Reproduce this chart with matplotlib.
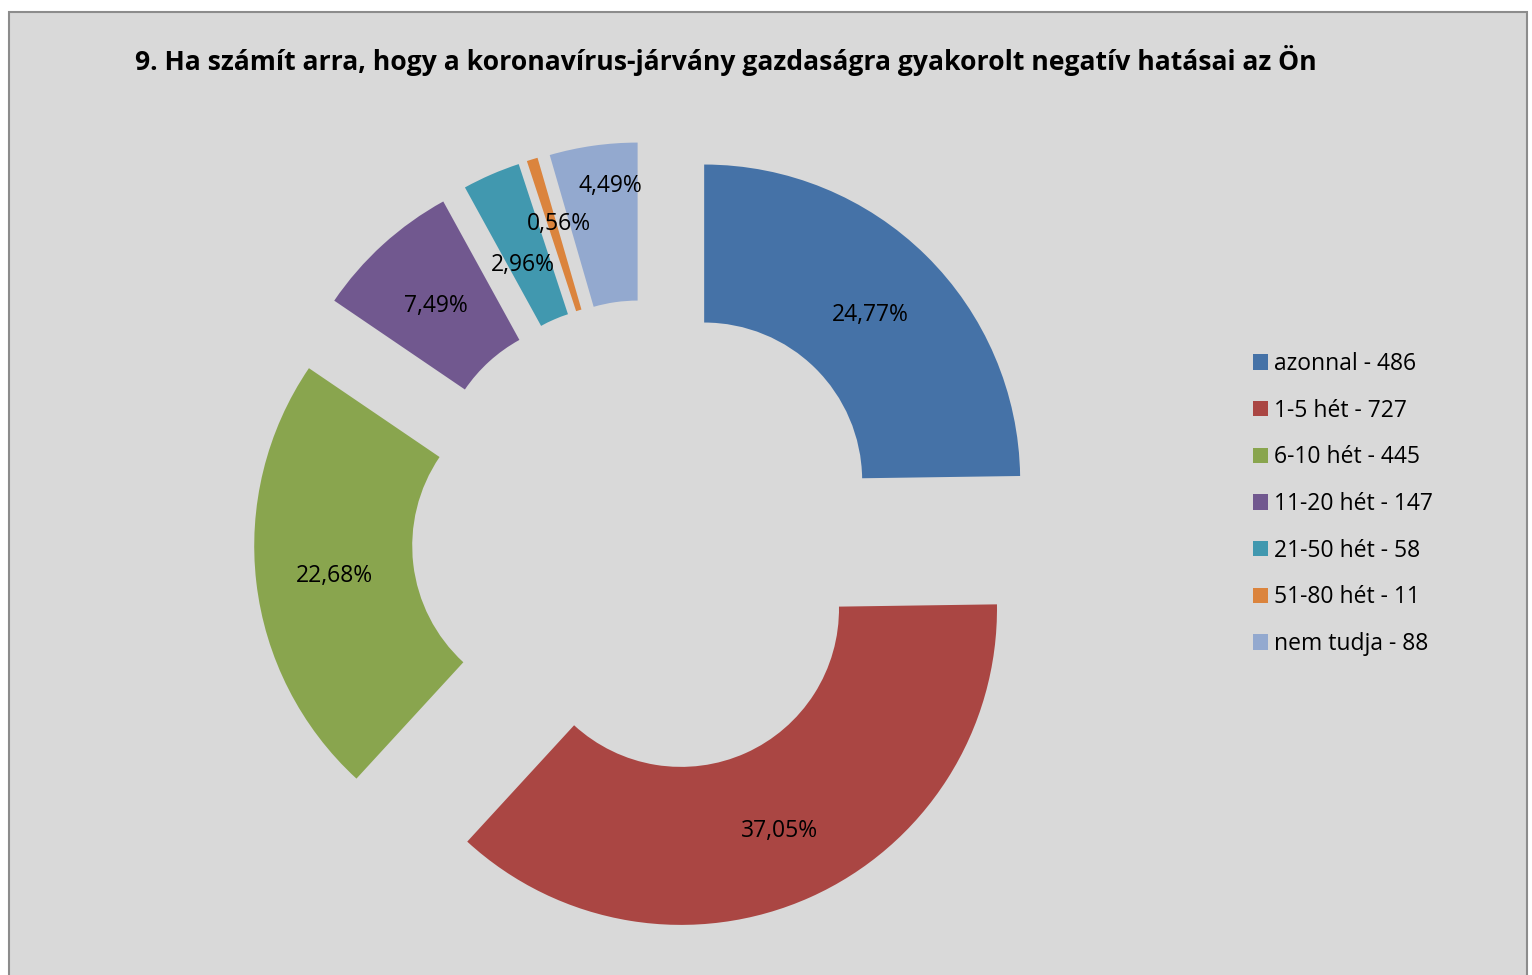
import numpy as np
import matplotlib
matplotlib.use("Agg")
import matplotlib.pyplot as plt
from matplotlib.patches import Rectangle

# answers to question 9
categories = ["azonnal", "1-5 hét", "6-10 hét", "11-20 hét", "21-50 hét", "51-80 hét", "nem tudja"]
counts = [486, 727, 445, 147, 58, 11, 88]
colors = ["#4572A7", "#AA4643", "#89A54E", "#71588F", "#4198AF", "#DB843D", "#93A9CF"]

title = "9. Ha számít arra, hogy a koronavírus-járvány gazdaságra gyakorolt negatív hatásai az Ön"

# where the percentage text sits inside each slice (fraction of radius, degrees off the bisector)
label_dist = [0.75, 0.76, 0.75, 0.75, 0.705, 0.79, 0.875]
label_turn = [0, 0, 0, 0, 1.5, -1.8, -2.4]

plt.rcParams['font.family'] = ['Open Sans', 'DejaVu Sans']

W, H = 1532, 975
fig = plt.figure(figsize=(W / 100, H / 100), dpi=100)
fig.patch.set_facecolor("white")

# grey chart area with a thin border
bg = Rectangle((9 / W, -0.05), (1527 - 9) / W, 1.05 - 12 / H,
               transform=fig.transFigure, facecolor="#D9D9D9",
               edgecolor="#8C8C8C", linewidth=1.5, zorder=-10)
fig.patches.append(bg)

fig.text(135 / W, 1 - 60 / H, title, fontsize=19.05, fontweight="bold",
         ha="left", va="center", color="black")

# pie axes: centre at (648.7, 536.8) px, radius 316 px, slices pulled out 79 px
R = 316
A = 440
cx_px, cy_px = 648.7, 536.8
ax = fig.add_axes([(cx_px - A) / W, (H - cy_px - A) / H, 2 * A / W, 2 * A / H])
ax.patch.set_visible(False)
total = sum(counts)
wedges, _ = ax.pie(counts, colors=colors, startangle=90, counterclock=False,
                   radius=1, explode=[79 / R] * len(counts),
                   wedgeprops=dict(width=0.5, linewidth=0))
ax.set_xlim(-A / R, A / R)
ax.set_ylim(-A / R, A / R)
ax.set_aspect("equal")
ax.axis("off")

for w, c, d, t in zip(wedges, counts, label_dist, label_turn):
    th = np.deg2rad((w.theta1 + w.theta2) / 2 + t)
    cx, cy = w.center
    pct = f"{100 * c / total:.2f}%".replace(".", ",")
    ax.text(cx + d * np.cos(th), cy + d * np.sin(th) - 3 / R, pct, ha="center",
            va="center", fontsize=16.5, color="black")

labels = [f"{cat} - {n}" for cat, n in zip(categories, counts)]
fig.legend(wedges, labels, loc="upper left", bbox_to_anchor=(1253 / W, 1 - 352 / H),
           frameon=False, fontsize=16.5, handlelength=0.65, handleheight=0.65,
           handletextpad=0.26, labelspacing=0.99, borderpad=0, borderaxespad=0)

fig.savefig("out.png", dpi=100, facecolor="white")
